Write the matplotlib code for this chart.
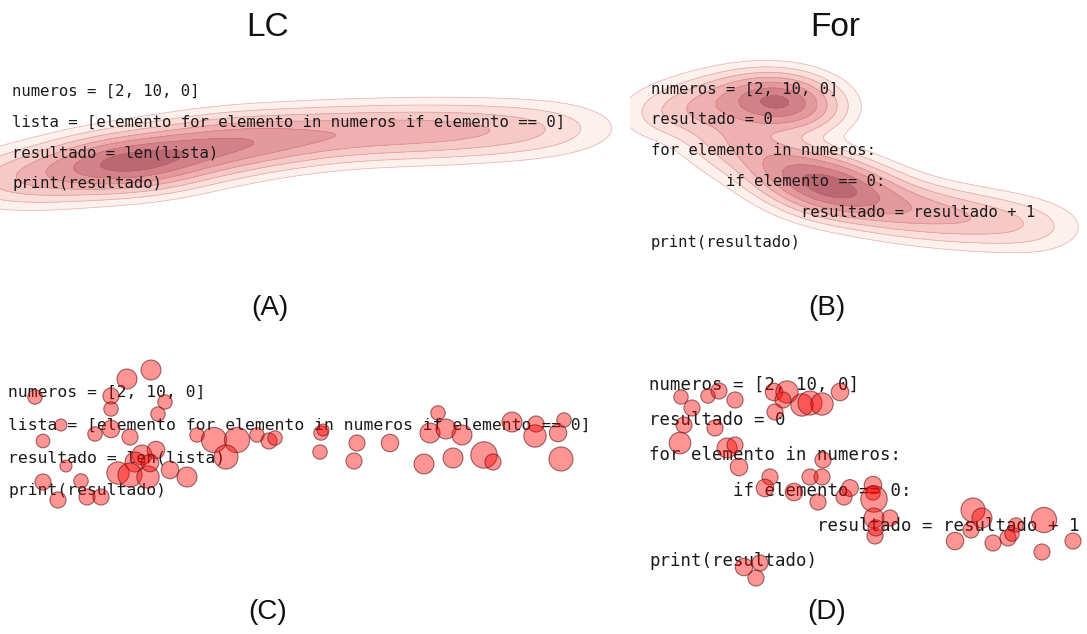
import numpy as np
import matplotlib
matplotlib.use("Agg")
import matplotlib.pyplot as plt

W, H = 1087, 634

# code shown on screen, one list per version
codigo_lc = [
    "numeros = [2, 10, 0]",
    "lista = [elemento for elemento in numeros if elemento == 0]",
    "resultado = len(lista)",
    "print(resultado)",
]
codigo_for = [
    "numeros = [2, 10, 0]",
    "resultado = 0",
    "for elemento in numeros:",
    "        if elemento == 0:",
    "                resultado = resultado + 1",
    "print(resultado)",
]

# attention hot spots (px, relative weight)
calor_lc_x = [135, 95, 185, 235, 285, 340, 395, 450, 505, 555, 45, 5]
calor_lc_y = [162, 168, 152, 143, 138, 134, 132, 131, 130, 128, 176, 182]
calor_lc_w = [1.0, 0.55, 0.7, 0.6, 0.45, 0.38, 0.36, 0.34, 0.24, 0.14, 0.32, 0.18]

calor_for_x = [780, 752, 720, 690, 665, 800, 725, 750, 785, 812, 838, 870, 910, 955,
               1000, 1040]
calor_for_y = [101, 97, 100, 108, 115, 110, 132, 150, 167, 180, 190, 200, 210, 217,
               222, 228]
calor_for_w = [1.1, 0.45, 0.3, 0.25, 0.15, 0.4, 0.3, 0.4, 0.6, 0.85, 1.0, 0.65, 0.5, 0.4,
               0.28, 0.15]

# fixations (px, radius ~ duration) for the LC version
lc_x = [35, 127, 151, 111, 165, 111, 158, 61, 95, 111, 130, 43, 197, 214, 237, 226,
        257, 269, 275, 66, 142, 156, 135, 118, 130, 148, 150, 170, 187, 43, 58, 81,
        87, 101, 321, 323, 320, 357, 354, 390, 424, 438, 430, 446, 462, 453, 484, 493,
        512, 536, 535, 558, 564, 561]
lc_y = [397, 379, 370, 396, 402, 409, 414, 425, 434, 429, 437, 441, 435, 440, 440, 457,
        435, 441, 438, 466, 455, 450, 462, 473, 475, 477, 463, 470, 477, 482, 500, 481,
        497, 497, 433, 430, 452, 443, 461, 443, 464, 413, 433, 429, 435, 458, 455, 462,
        422, 424, 436, 433, 420, 459]
lc_r = [6, 8.3, 8.3, 6.7, 6, 6, 6, 5, 6, 7.3, 6.7, 5.7, 6, 10.5, 10.5, 10,
        6, 6.7, 6, 5, 8.3, 7.3, 8.3, 9.3, 10, 9.3, 7.3, 7.3, 8.3, 6.7, 6.7, 6,
        6.7, 6.7, 6, 5, 6, 6.7, 6.7, 7.3, 8.3, 6, 8.3, 8.3, 8.3, 8.3, 11, 6.7,
        8.3, 6.7, 9.3, 7.3, 6, 10]

# fixations for the For version
for_x = [681, 708, 719, 735, 692, 684, 715, 680, 727, 735, 739, 774, 787, 783, 775, 802,
         810, 822, 840, 823, 810, 822, 770, 765, 794, 818, 844, 850, 873, 873, 874, 874,
         890, 875, 876, 973, 982, 955, 971, 993, 1008, 1012, 1016, 1044, 1042, 1073,
         744, 760, 756]
for_y = [397, 396, 391, 400, 408, 425, 428, 443, 448, 445, 467, 392, 392, 400, 412, 405,
         403, 404, 392, 460, 477, 477, 477, 488, 492, 502, 497, 488, 485, 493, 499, 518,
         518, 536, 528, 510, 518, 541, 530, 543, 538, 534, 525, 520, 552, 541,
         567, 563, 578]
for_r = [6, 6, 6.7, 6.7, 6.7, 6.7, 6.7, 9, 8.3, 6.7, 7.3, 7.3, 9.3, 6.7, 6.7, 9.3,
         10, 9.3, 7.3, 6.7, 6.7, 6.7, 6.7, 7.3, 7.3, 6.7, 6.7, 7, 7.3, 6, 11, 8.3,
         6.7, 6.7, 6.7, 10, 8.3, 7.3, 6.7, 6.7, 6.7, 6, 6, 10.5, 6.7, 6.7,
         7.3, 6.7, 6.7]

niveis = [0.04, 0.1, 0.19, 0.31, 0.46, 0.65, 0.86, 1.01]
cores = ['#fdf1ee', '#fadfda', '#f5c9c5', '#eeb0b0', '#e39a9c', '#d28189', '#bb6873']

fig = plt.figure(figsize=(W / 100, H / 100), dpi=100)


def painel(left, top, width, height):
    # axes in figure pixels, y pointing down
    ax = fig.add_axes([left / W, 1 - (top + height) / H, width / W, height / H])
    ax.set_xlim(left, left + width)
    ax.set_ylim(top + height, top)
    ax.axis('off')
    return ax


def escreve(ax, linhas, x0, y0, passo, fs):
    for i, linha in enumerate(linhas):
        ax.text(x0, y0 + i * passo, linha, fontfamily='DejaVu Sans Mono', fontsize=fs,
                ha='left', va='center', color='#1a1a1a', zorder=2)


def mapa_calor(ax, xs, ys, ws, sx, sy):
    xs, ys, ws = np.array(xs, float), np.array(ys, float), np.array(ws, float)
    gx = np.linspace(*sorted(ax.get_xlim()), 450)
    gy = np.linspace(*sorted(ax.get_ylim()), 240)
    xx, yy = np.meshgrid(gx, gy)
    z = (ws * np.exp(-0.5 * ((xx[..., None] - xs) / sx) ** 2
                     - 0.5 * ((yy[..., None] - ys) / sy) ** 2)).sum(-1)
    z = z / z.max()
    ax.contourf(xx, yy, z, levels=niveis, colors=cores, zorder=1)
    ax.contour(xx, yy, z, levels=niveis[:-1], colors='#c05858', linewidths=0.6,
               alpha=0.35, zorder=1)


def bolhas(ax, xs, ys, rs):
    s = [(2 * 1.2 * r * 0.72) ** 2 for r in rs]
    ax.scatter(xs, ys, s=s, facecolor=(1, 0, 0, 0.42), edgecolor=(0.35, 0.08, 0.08, 0.6),
               linewidth=0.8, zorder=3)


# (A) LC heatmap
axA = painel(0, 45, 620, 235)
mapa_calor(axA, calor_lc_x, calor_lc_y, calor_lc_w, 42, 16)
escreve(axA, codigo_lc, 12, 91, 31, 11.28)

# (B) For heatmap
axB = painel(630, 45, 457, 240)
mapa_calor(axB, calor_for_x, calor_for_y, calor_for_w, 30, 16)
escreve(axB, codigo_for, 651, 89, 30.8, 11.18)

# (C) LC fixations
axC = painel(0, 345, 620, 190)
escreve(axC, codigo_lc, 8, 392, 33, 11.84)
bolhas(axC, lc_x, lc_y, lc_r)

# (D) For fixations
axD = painel(630, 345, 457, 250)
escreve(axD, codigo_for, 649, 385, 35.2, 12.56)
bolhas(axD, for_x, for_y, for_r)

titulo = dict(fontfamily='Liberation Sans', ha='center', va='center', color='#111111')
fig.text(268 / W, 1 - 27 / H, 'LC', fontsize=24, **titulo)
fig.text(835 / W, 1 - 27 / H, 'For', fontsize=24, **titulo)
for rot, x, y in [('(A)', 270, 308), ('(B)', 827, 308), ('(C)', 268, 612), ('(D)', 827, 612)]:
    fig.text(x / W, 1 - y / H, rot, fontsize=20, **titulo)

fig.savefig('out.png', dpi=100)
